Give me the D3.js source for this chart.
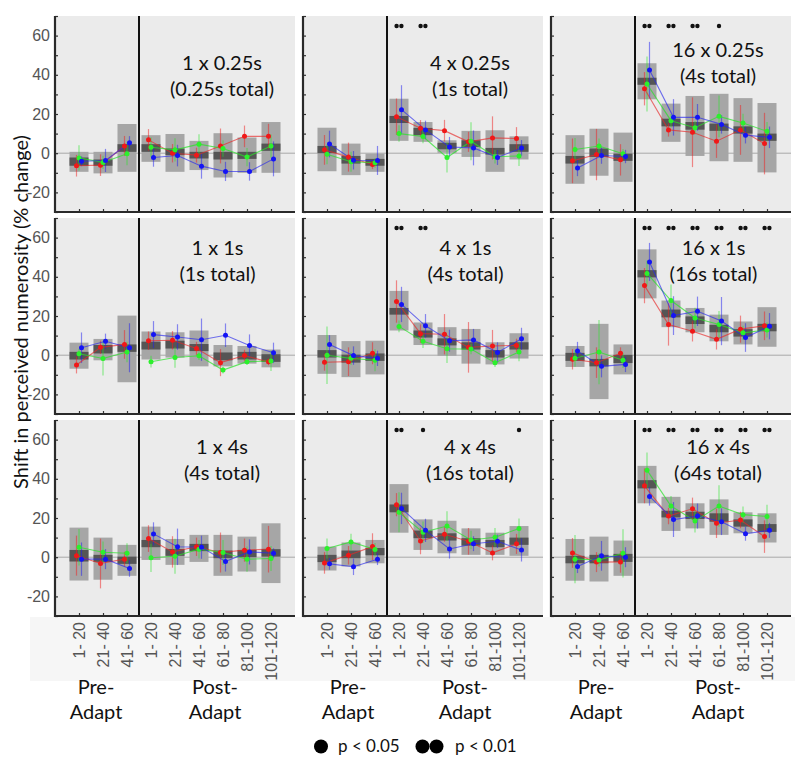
<!DOCTYPE html>
<html><head><meta charset="utf-8">
<script src="https://cdn.jsdelivr.net/npm/d3@7"></script>
<style>body{margin:0;background:#fff}svg{display:block}</style>
</head><body>
<svg id="c" width="800" height="766"></svg>
<script>
// ---------- DATA ----------
const categories = ["1- 20","21- 40","41- 60","1- 20","21- 40","41- 60","61- 80","81-100","101-120"];
const yTicks = [-20, 0, 20, 40, 60];
const titles = [
  ["1 x 0.25s","(0.25s total)"],["4 x 0.25s","(1s total)"],["16 x 0.25s","(4s total)"],
  ["1 x 1s","(1s total)"],["4 x 1s","(4s total)"],["16 x 1s","(16s total)"],
  ["1 x 4s","(4s total)"],["4 x 4s","(16s total)"],["16 x 4s","(64s total)"]
];
const groupLabels = [["Pre-","Adapt"],["Post-","Adapt"]];
const legendLabels = ["p < 0.05","p < 0.01"];

// light grey box: full range
const rangeLo = [
  [-9.5,-10.3,-9.5,-4.4,-9.5,-8.6,-12.4,-10,-10],
  [-9.2,-11.2,-9.5,6.3,5.8,0.2,-1.9,-9.5,-3.2],
  [-15.6,-11.5,-14.6,27.5,5.8,-1.4,-4.1,-4.4,-9.8],
  [-6.9,-2.6,-13.8,-2.2,-1.2,-5.7,-5.7,-4.3,-6.2],
  [-9.5,-11.2,-9.8,12.6,5.2,-0.3,-4.3,-4.7,-1.7],
  [-6,-22.4,-9.8,29,14.3,11.7,7.1,5.5,4.3],
  [-11.9,-11.5,-9.5,-1.4,-3.9,-2.4,-9.5,-7.3,-13.2],
  [-6.8,-4.7,-3.1,12.5,3.7,2,1.2,1.2,0.7],
  [-12,-12.4,-9.5,27.5,13.4,14.7,11.4,12.2,7.5]
];
const rangeHi = [
  [0.7,0.7,14.9,9.2,9.8,6.3,10.2,8,15.9],
  [13,4.9,-0.2,27.8,15.9,6.6,11.4,11.7,8.6],
  [9.2,12.5,10.5,45.9,25.3,29.2,30.3,28.1,25.6],
  [6.4,8.3,20.2,12.1,11.7,12.6,5.2,4.7,2.9],
  [10.3,7.2,7.4,32.8,16.7,14.3,13.4,6.6,11.2],
  [4.7,16,5.5,54,27.9,24.1,20.7,17.2,24.5],
  [15.1,10,6.3,15.6,9.3,11.4,11.4,10.5,17.3],
  [5.4,7.5,8.8,37.3,19.3,18.6,14.7,12.5,15.9],
  [9.3,10.5,8.5,46.6,30.8,27.5,29.5,22.9,22.4]
];
// dark grey box: interquartile
const iqrLo = [
  [-6.4,-6.4,0.7,0.7,-1,-2.7,-3.2,-2.9,1.2],
  [0,-5.3,-6.4,15.4,9.2,2,3.2,-0.7,0.7],
  [-5.3,-1.9,-3.9,34.9,13.7,12,11.4,10,6.3],
  [-2.2,0.9,1.7,2.9,3.4,2.1,-2.6,-2.2,-3.4],
  [-1.2,-3.8,-2.9,20.7,9,5,2.9,-1.2,2.9],
  [-2.9,-5.7,-4,39.7,19.3,15.9,11.7,9.5,12.2],
  [-2.2,-2.4,-3.4,5.1,0.7,3.1,-0.5,0,0.3],
  [-2.5,-0.5,1,22.9,9.7,8.5,5.9,5.1,6.3],
  [-3.1,-3.1,-2.4,35.1,20.3,19.5,18.1,15.6,12.9]
];
const iqrHi = [
  [-2.2,-3.2,4.6,4.6,2.4,0.7,0.7,0.7,4.9],
  [3.7,-1.4,-2.9,19,12.9,5.3,6.6,2.7,4.6],
  [-1.4,2.4,-0.2,38.5,17.6,15.9,15.1,13.7,10],
  [1.7,5.2,5.5,6.9,7.4,5.7,1.4,1.7,0.5],
  [2.6,0.3,0.9,24.1,12.6,8.6,6.6,2.6,6.6],
  [1.2,-1.9,0.2,43.4,23.3,19.8,15.5,13.3,16],
  [3.7,1.2,0.3,8.8,4.2,6.8,3.4,3.7,4.1],
  [1.2,3.4,4.7,26.9,13.6,12.2,9.7,8.8,10],
  [0.7,1.2,1.7,39.3,23.7,23.2,22.4,19.3,16.9]
];
const redMean = [
  [-6.4,-6.1,3.7,6.8,0,-1,3.7,8.6,8.6],
  [1.7,-2,-5.8,18.6,12.7,11.5,5.8,7.8,7.5],
  [-3.9,-0.7,-3.4,32.9,11.9,10.7,6.1,11.9,4.9],
  [-5,4,5.5,7.4,7.6,3.4,-3.8,-0.2,-3.4],
  [-3.6,-3.3,1,27.4,11,10.7,4,4.7,5],
  [-2.1,-3.8,1,35.5,15.7,12.2,8.1,13.3,15],
  [0.8,-3.2,-1,9.5,2.7,5.3,2.4,3.6,4.1],
  [-2.9,1,5.4,26.8,8.3,11.7,8.1,2.2,6.8],
  [2.2,-2.5,-2.4,36.4,21,24.7,17.3,19,10.5]
];
const greenMean = [
  [-2.4,-4.7,-0.3,3,1.7,4.6,2.4,-2,3.7],
  [-0.5,-4.4,-4.9,10,8.5,-2.2,6.1,-1.8,-1.4],
  [1.9,3.7,-0.3,35.3,16.6,13,18.8,15.4,11.2],
  [0.7,-1.7,1.6,-3.3,-1.2,-0.3,-7.6,-3.3,-2.9],
  [0,-1.6,-2.6,14.7,7.1,3.3,3.1,-3.8,1.6],
  [-1.6,1.6,-2.6,41.7,27.9,19,15.7,11.4,12.9],
  [5.1,2.5,2,-0.3,0.5,4.1,2.4,-1,-0.7],
  [4.4,7.8,3.9,22.9,12.7,15.9,8.8,10.2,14.6],
  [-1,-1.4,2,44.4,26.1,18.5,26.1,21.7,20.8]
];
const blueMean = [
  [-4.1,-3.7,5.3,-2.2,-1.2,-6.6,-9.3,-9.3,-2.9],
  [4.7,-3.6,-3.7,22.2,11.9,3.2,2.7,-2.2,2.7],
  [-7.5,-1.2,-1.7,42.4,18.3,18.3,14.7,9.2,8.1],
  [3.8,7.1,3.8,10.5,9.3,7.9,10.2,5,1.2],
  [5.5,-0.2,-1.6,25.9,15,7.4,7.8,1.4,8.4],
  [2.1,-5.7,-4.7,47.6,20.2,22.4,17.4,9,14.8],
  [-1,-1,-5.8,11.9,5.3,5.1,-2.2,2.7,2],
  [-3.4,-4.9,-1,24.9,13.7,4.2,6.9,8.1,3.7],
  [-4.7,0.7,0,31,19.2,21,18.1,12,13.7]
];
const redErr = [
  [5.5,5.5,5.1,5.5,4.7,3.8,8.9,5.5,6.4],
  [7.6,7.4,2.3,9.3,4.2,5.5,5.1,11,5.8],
  [11.4,13.1,8,8.5,3.4,17.8,8.5,12.7,15.7],
  [4.3,3.4,7.3,4.7,4.7,3.4,6.9,3,1.7],
  [4.3,7.3,5.6,10.8,4.7,10.3,12.9,8.2,3.4],
  [5.2,7.8,3,9,10.8,5.2,5.2,6.9,7.3],
  [10.2,12.7,3.8,6.8,8,4.7,10.2,5.9,11.9],
  [5.5,4.7,6.8,5.9,6.8,3.8,6.8,3.8,5.1],
  [7.6,5.1,5.5,8.9,4.2,5.7,7.5,4.2,8.3]
];
const greenErr = [
  [6.4,3.4,5.9,5.1,5.9,5.1,4.2,4.7,5.9],
  [5.1,5.1,2.5,4.2,3.4,7.6,9.7,3.4,5.1],
  [5.9,3.8,2.5,14,3.4,3.4,10.6,4.7,4.7],
  [2.6,8.6,5.2,3,5.2,2.2,1.7,1.7,5.2],
  [14.7,3.4,5.6,3,3.4,7.3,2.6,2.2,4.7],
  [4.3,16.4,3.9,6.5,8.2,5.2,6.9,3.6,3.9],
  [9.3,5.5,5.1,7.2,8.9,4.7,6.4,6.4,6.4],
  [5.1,4.2,3.4,10.2,5.5,7.6,4.7,4.7,5.1],
  [12.3,3.4,12.3,9,5.1,5.9,10.6,4.2,5.9]
];
const blueErr = [
  [2.5,5.9,3.4,4.7,5.5,6.4,4.9,4.7,8.9],
  [6.8,4.7,7.4,12.5,4.7,5.1,8.9,3.8,4],
  [4.2,4.2,3.4,14.4,9.3,6.8,4.7,4.2,5.5],
  [7.8,3.9,12.5,6.9,6.5,10.8,6,5.6,5.2],
  [4.7,4.7,3.9,9,6,5.6,5.6,5.2,5.6],
  [4.7,5.6,3.9,9.7,9.9,7.5,12.3,7.3,6.7],
  [8.5,5.1,4.2,5.9,9.3,5.9,5.1,6.4,2.5],
  [3,4.2,3,8,5.9,4.9,3.8,3.4,5.9],
  [3.4,7.6,5.1,4.7,8.9,6.4,6.8,3.6,3.8]
];
// significance markers over post-adapt bins: 0 none, 1 = p<0.05, 2 = p<0.01
const signif = [
  [0,0,0,0,0,0],[2,2,0,0,0,0],[2,2,2,1,0,0],
  [0,0,0,0,0,0],[2,2,0,0,0,0],[2,2,2,2,2,2],
  [0,0,0,0,0,0],[2,1,0,0,0,1],[2,2,2,2,2,2]
];

// ---------- LAYOUT ----------
const svg = d3.select("#c");
const W = 240, H = 196;
const colX = [55, 303, 551], rowY = [16, 218, 420];
const titleDx = [167,167,167,162.5,162.5,162.5,167,167,167];
const titleDy = [54,54,41,37,37,37,34,34,34];
const preLabelX = [96, 348, 596], postLabelX = [215, 465, 718];
const sans = "Lato, 'Open Sans', sans-serif";
const arial = "'Liberation Sans', Arial, Helvetica, sans-serif";

const x = d3.scalePoint().domain(d3.range(9)).range([24, 216]);
const y = d3.scaleLinear().domain([-30, 70]).range([H, 0]);

const series = [
  {mean: redMean, err: redErr, dot: "#f01818", line: "rgba(230,40,40,0.65)", bar: "rgba(240,30,30,0.5)", dx: -2.5},
  {mean: greenMean, err: greenErr, dot: "#2cf02c", line: "rgba(40,225,40,0.7)", bar: "rgba(40,230,40,0.5)", dx: 0},
  {mean: blueMean, err: blueErr, dot: "#1414f5", line: "rgba(40,40,235,0.65)", bar: "rgba(30,30,240,0.5)", dx: 2.5}
];

// light background under x tick labels
svg.append("rect").attr("x", 30).attr("y", 617).attr("width", 765).attr("height", 64).attr("fill", "#f6f6f6");

for (let p = 0; p < 9; p++) {
  const r = Math.floor(p / 3), c = p % 3;
  const g = svg.append("g").attr("transform", `translate(${colX[c]},${rowY[r]})`);
  g.append("rect").attr("width", W).attr("height", H).attr("fill", "#ebebeb");
  g.append("line").attr("x1", 0).attr("x2", W).attr("y1", y(0)).attr("y2", y(0))
    .attr("stroke", "#a8a8a8").attr("stroke-width", 1);

  const idx = d3.range(9);
  g.selectAll(".rng").data(idx).join("rect")
    .attr("x", i => x(i) - 9.5).attr("width", 19)
    .attr("y", i => y(rangeHi[p][i])).attr("height", i => y(rangeLo[p][i]) - y(rangeHi[p][i]))
    .attr("fill", "#a6a6a6");
  g.selectAll(".iqr").data(idx).join("rect")
    .attr("x", i => x(i) - 9.5).attr("width", 19)
    .attr("y", i => y(iqrHi[p][i])).attr("height", i => y(iqrLo[p][i]) - y(iqrHi[p][i]))
    .attr("fill", "#555555");

  // error bars
  series.forEach(s => {
    g.append("g").selectAll("line").data(idx).join("line")
      .attr("x1", i => x(i) + s.dx).attr("x2", i => x(i) + s.dx)
      .attr("y1", i => y(s.mean[p][i] - s.err[p][i])).attr("y2", i => y(s.mean[p][i] + s.err[p][i]))
      .attr("stroke", s.bar).attr("stroke-width", 1.2);
  });
  // connecting lines
  const lineGen = (s) => d3.line().x(i => x(i) + s.dx).y(i => y(s.mean[p][i]));
  series.forEach(s => {
    [[0,1,2],[3,4,5,6,7,8]].forEach(seg => {
      g.append("path").attr("d", lineGen(s)(seg)).attr("fill", "none")
        .attr("stroke", s.line).attr("stroke-width", 1.1);
    });
  });
  series.forEach(s => {
    g.append("g").selectAll("circle").data(idx).join("circle")
      .attr("cx", i => x(i) + s.dx).attr("cy", i => y(s.mean[p][i])).attr("r", 2.5)
      .attr("fill", s.dot);
  });

  // significance dots
  signif[p].forEach((v, k) => {
    const cx = x(k + 3);
    const offs = v === 2 ? [-2.4, 2.4] : v === 1 ? [0] : [];
    offs.forEach(o => g.append("circle").attr("cx", cx + o).attr("cy", 10).attr("r", 2.2).attr("fill", "#111"));
  });

  // pre/post divider
  const xd = (x(2) + x(3)) / 2;
  g.append("line").attr("x1", xd).attr("x2", xd).attr("y1", 0).attr("y2", H)
    .attr("stroke", "#111").attr("stroke-width", 2);

  // axes
  const ya = d3.axisLeft(y).tickValues(d3.range(-30, 71, 10)).tickSize(-3).tickFormat(d => yTicks.includes(d) && c === 0 ? d : "");
  const yg = g.append("g").call(ya).attr("font-size", null).attr("font-family", null);
  yg.select(".domain").remove();
  yg.selectAll(".tick line").attr("stroke", "#333").attr("stroke-width", 1.2);
  yg.selectAll(".tick text").attr("x", -5).attr("fill", "#555")
    .style("font-size", "16px").style("font-family", arial);
  const xa = d3.axisBottom(x).tickSize(-3).tickFormat("");
  const xg = g.append("g").attr("transform", `translate(0,${H})`).call(xa);
  xg.select(".domain").remove();
  xg.selectAll(".tick line").attr("stroke", "#333").attr("stroke-width", 1.2);

  g.append("line").attr("x1", 0).attr("x2", 0).attr("y1", 0).attr("y2", H + 1)
    .attr("stroke", "#2a2a2a").attr("stroke-width", 2.2);
  g.append("line").attr("x1", -1).attr("x2", W).attr("y1", H).attr("y2", H)
    .attr("stroke", "#2a2a2a").attr("stroke-width", 2.2);

  // title
  const t = g.append("text").attr("text-anchor", "middle").attr("font-family", sans)
    .attr("font-size", 20).attr("fill", "#111");
  t.append("tspan").attr("x", titleDx[p]).attr("y", titleDy[p]).text(titles[p][0]);
  t.append("tspan").attr("x", titleDx[p]).attr("y", titleDy[p] + 26).text(titles[p][1]);

  // x tick labels (bottom row only)
  if (r === 2) {
    g.selectAll(".xl").data(idx).join("text")
      .attr("transform", i => `translate(${x(i)},${H + 6}) rotate(-90)`)
      .attr("text-anchor", "end").attr("dy", "0.36em")
      .attr("fill", "#555")
      .style("font-family", arial).style("font-size", "16px")
      .text(i => categories[i]);
  }
}

// Pre/Post labels
for (let c = 0; c < 3; c++) {
  [[preLabelX[c], groupLabels[0]], [postLabelX[c], groupLabels[1]]].forEach(([lx, lab]) => {
    const t = svg.append("text").attr("text-anchor", "middle").attr("font-family", sans)
      .attr("font-size", 20).attr("fill", "#111");
    t.append("tspan").attr("x", lx).attr("y", 694).text(lab[0]);
    t.append("tspan").attr("x", lx).attr("y", 719).text(lab[1]);
  });
}

// y-axis title
svg.append("text").attr("transform", "translate(28,312) rotate(-90)")
  .attr("text-anchor", "middle").attr("font-family", sans).attr("font-size", 20).attr("fill", "#111")
  .text("Shift in perceived numerosity (% change)");

// legend
const lg = svg.append("g").attr("font-family", sans).attr("font-size", 17).attr("fill", "#111");
lg.append("circle").attr("cx", 321).attr("cy", 746.5).attr("r", 7).attr("fill", "#000");
lg.append("text").attr("x", 338).attr("y", 752).text(legendLabels[0]);
lg.append("circle").attr("cx", 422.5).attr("cy", 746.5).attr("r", 7).attr("fill", "#000");
lg.append("circle").attr("cx", 436.5).attr("cy", 746.5).attr("r", 7).attr("fill", "#000");
lg.append("text").attr("x", 455).attr("y", 752).text(legendLabels[1]);
</script>
</body></html>
